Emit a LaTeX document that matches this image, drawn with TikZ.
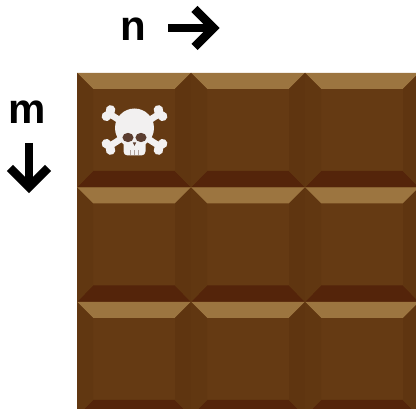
\documentclass[tikz,border=0pt]{standalone}
\usepackage{fontspec}
\setmainfont{Liberation Sans}
\definecolor{cellface}{RGB}{101,58,19}
\definecolor{bevellight}{RGB}{156,117,64}
\definecolor{beveldark}{RGB}{84,36,10}
\definecolor{bevelleft}{RGB}{97,55,17}
\definecolor{bevelright}{RGB}{95,53,16}
\definecolor{bone}{RGB}{242,240,240}
\definecolor{socket}{RGB}{92,62,48}
\tikzset{
  label text/.style={font=\fontsize{42}{42}\selectfont\bfseries, inner sep=0pt},
  dir arrow/.style={line width=8.5pt, line cap=butt, line join=miter},
  % one square of the chocolate bar, 114 x 114.5 with 16 wide bevels
  cell/.pic={
    \fill[cellface] (0,0) rectangle (114,114.5);
    \fill[bevellight] (0,0) -- (114,0) -- (98,16) -- (16,16) -- cycle;
    \fill[beveldark] (0,114.5) -- (114,114.5) -- (98,98) -- (16,98) -- cycle;
    \fill[bevelleft] (0,0) -- (16,16) -- (16,98) -- (0,114.5) -- cycle;
    \fill[bevelright] (114,0) -- (98,16) -- (98,98) -- (114,114.5) -- cycle;
  },
  % a bone lying along the x axis, centred on the origin
  crossbone/.pic={
    \draw[bone, line width=6.5pt] (-30,0) -- (30,0);
    \fill[bone] (-31,3.8) circle (4.8) (-31,-3.8) circle (4.8)
                (31,3.8) circle (4.8) (31,-3.8) circle (4.8);
  }
}
\begin{document}
\begin{tikzpicture}[x=1pt,y=-1pt]
\useasboundingbox (0,0) rectangle (416,409);
\fill[white] (0,0) rectangle (416,409);

% the bar, cut by the picture's edges
\begin{scope}
  \clip (0,0) rectangle (416,409);
  \foreach \i in {0,1,2}
    \foreach \j in {0,1,2}
      \pic at ({77+114*\i},{73+114.5*\j}) {cell};
\end{scope}

% skull and crossbones on the first square
\coordinate (skull) at (134.5,130);
\pic[rotate=33] at (skull) {crossbone};
\pic[rotate=-33] at (skull) {crossbone};
\fill[bone] (134.5,128) circle (19.5);
\fill[bone, rounded corners=4pt] (123.5,138) rectangle (145.5,155.5);
\fill[socket] (128,137.5) ellipse (5.6 and 4.6) (141,137.5) ellipse (5.6 and 4.6);
\fill[socket] (132.8,142.5) -- (136.2,142.5) -- (134.5,146) -- cycle;
\draw[socket!45!bone, line width=0.8pt] (130.5,150.5) -- (130.5,155) (134.5,150.5) -- (134.5,155.5) (138.5,150.5) -- (138.5,155);

% axis labels
\node[label text] (n) at (133,29.5) {n};
\node[label text] (m) at (27.5,112.5) {m};

% direction arrows
\coordinate (nTail) at (168,28);
\coordinate (nTip) at (213.5,28);
\coordinate (mTail) at (29,143);
\coordinate (mTip) at (29,187);
\draw[dir arrow] (nTail) -- (nTip);
\draw[dir arrow] ([xshift=-19pt,yshift=19pt]nTip) -- (nTip) -- ([xshift=-19pt,yshift=-19pt]nTip);
\draw[dir arrow] (mTail) -- (mTip);
\draw[dir arrow] ([xshift=-19pt,yshift=19pt]mTip) -- (mTip) -- ([xshift=19pt,yshift=19pt]mTip);
\end{tikzpicture}
\end{document}
